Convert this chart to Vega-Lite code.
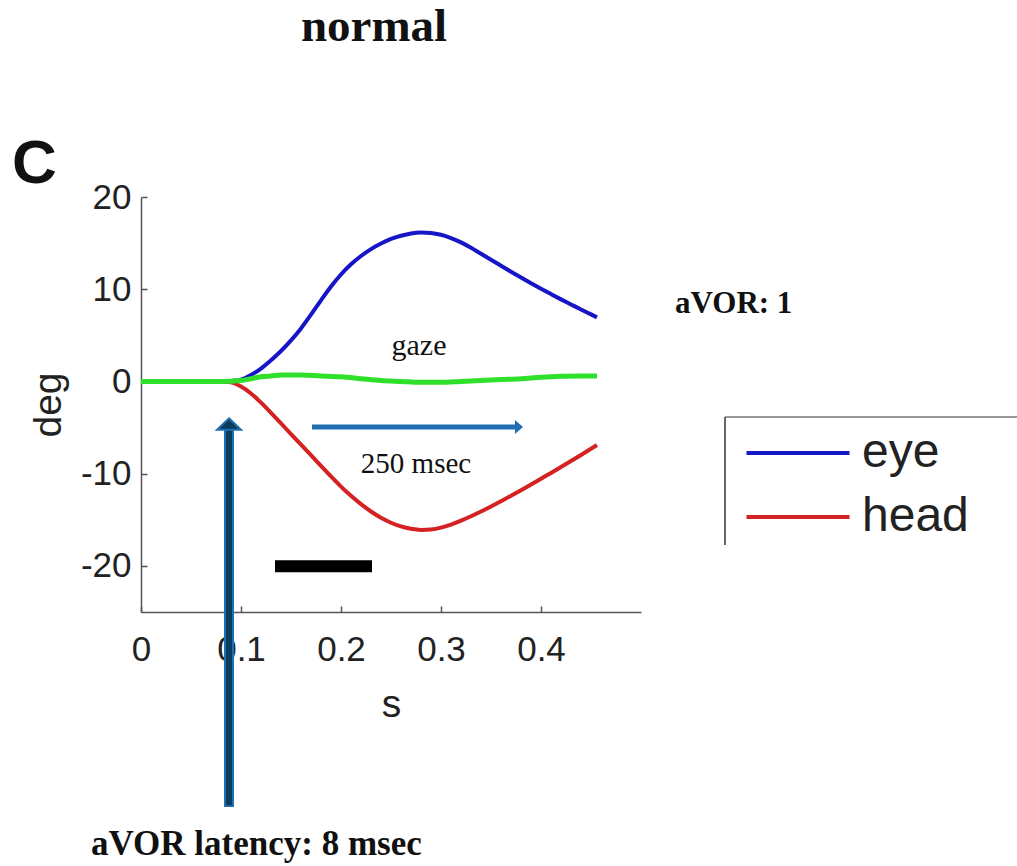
{
  "$schema": "https://vega.github.io/schema/vega-lite/v6.json",
  "width": 500,
  "height": 415,
  "autosize": {"type": "none"},
  "padding": {"left": 141, "top": 197, "right": 376, "bottom": 254},
  "background": "white",
  "config": {"view": {"stroke": null}, "font": "Liberation Sans"},
  "datasets": {
    "traces": [
      {"t": 0, "deg": 0, "series": "eye"}, {"t": 0.02, "deg": 0, "series": "eye"}, {"t": 0.04, "deg": 0, "series": "eye"},
      {"t": 0.06, "deg": 0, "series": "eye"}, {"t": 0.08, "deg": 0, "series": "eye"}, {"t": 0.09, "deg": 0.05, "series": "eye"},
      {"t": 0.1, "deg": 0.2, "series": "eye"}, {"t": 0.11, "deg": 0.7, "series": "eye"}, {"t": 0.12, "deg": 1.4, "series": "eye"},
      {"t": 0.13, "deg": 2.3, "series": "eye"}, {"t": 0.14, "deg": 3.3, "series": "eye"}, {"t": 0.15, "deg": 4.45, "series": "eye"},
      {"t": 0.16, "deg": 5.75, "series": "eye"}, {"t": 0.17, "deg": 7.25, "series": "eye"}, {"t": 0.18, "deg": 8.8, "series": "eye"},
      {"t": 0.19, "deg": 10.3, "series": "eye"}, {"t": 0.2, "deg": 11.6, "series": "eye"}, {"t": 0.21, "deg": 12.7, "series": "eye"},
      {"t": 0.22, "deg": 13.6, "series": "eye"}, {"t": 0.23, "deg": 14.35, "series": "eye"}, {"t": 0.24, "deg": 14.95, "series": "eye"},
      {"t": 0.25, "deg": 15.45, "series": "eye"}, {"t": 0.26, "deg": 15.8, "series": "eye"}, {"t": 0.27, "deg": 16.05, "series": "eye"},
      {"t": 0.28, "deg": 16.15, "series": "eye"}, {"t": 0.29, "deg": 16.1, "series": "eye"}, {"t": 0.3, "deg": 15.9, "series": "eye"},
      {"t": 0.31, "deg": 15.55, "series": "eye"}, {"t": 0.32, "deg": 15.08, "series": "eye"}, {"t": 0.33, "deg": 14.5, "series": "eye"},
      {"t": 0.34, "deg": 13.85, "series": "eye"}, {"t": 0.35, "deg": 13.2, "series": "eye"}, {"t": 0.36, "deg": 12.55, "series": "eye"},
      {"t": 0.37, "deg": 11.9, "series": "eye"}, {"t": 0.38, "deg": 11.27, "series": "eye"}, {"t": 0.39, "deg": 10.65, "series": "eye"},
      {"t": 0.4, "deg": 10.05, "series": "eye"}, {"t": 0.41, "deg": 9.47, "series": "eye"}, {"t": 0.42, "deg": 8.9, "series": "eye"},
      {"t": 0.43, "deg": 8.35, "series": "eye"}, {"t": 0.44, "deg": 7.8, "series": "eye"}, {"t": 0.45, "deg": 7.27, "series": "eye"},
      {"t": 0.456, "deg": 6.95, "series": "eye"},

      {"t": 0, "deg": 0, "series": "head"}, {"t": 0.02, "deg": 0, "series": "head"}, {"t": 0.04, "deg": 0, "series": "head"},
      {"t": 0.06, "deg": 0, "series": "head"}, {"t": 0.08, "deg": 0, "series": "head"}, {"t": 0.09, "deg": -0.1, "series": "head"},
      {"t": 0.1, "deg": -0.55, "series": "head"}, {"t": 0.11, "deg": -1.3, "series": "head"}, {"t": 0.12, "deg": -2.3, "series": "head"},
      {"t": 0.13, "deg": -3.4, "series": "head"}, {"t": 0.14, "deg": -4.55, "series": "head"}, {"t": 0.15, "deg": -5.7, "series": "head"},
      {"t": 0.16, "deg": -6.85, "series": "head"}, {"t": 0.17, "deg": -8.0, "series": "head"}, {"t": 0.18, "deg": -9.15, "series": "head"},
      {"t": 0.19, "deg": -10.3, "series": "head"}, {"t": 0.2, "deg": -11.4, "series": "head"}, {"t": 0.21, "deg": -12.4, "series": "head"},
      {"t": 0.22, "deg": -13.3, "series": "head"}, {"t": 0.23, "deg": -14.1, "series": "head"}, {"t": 0.24, "deg": -14.78, "series": "head"},
      {"t": 0.25, "deg": -15.32, "series": "head"}, {"t": 0.26, "deg": -15.72, "series": "head"}, {"t": 0.27, "deg": -15.98, "series": "head"},
      {"t": 0.28, "deg": -16.1, "series": "head"}, {"t": 0.29, "deg": -16.05, "series": "head"}, {"t": 0.3, "deg": -15.85, "series": "head"},
      {"t": 0.31, "deg": -15.52, "series": "head"}, {"t": 0.32, "deg": -15.1, "series": "head"}, {"t": 0.33, "deg": -14.62, "series": "head"},
      {"t": 0.34, "deg": -14.1, "series": "head"}, {"t": 0.35, "deg": -13.55, "series": "head"}, {"t": 0.36, "deg": -12.98, "series": "head"},
      {"t": 0.37, "deg": -12.4, "series": "head"}, {"t": 0.38, "deg": -11.8, "series": "head"}, {"t": 0.39, "deg": -11.18, "series": "head"},
      {"t": 0.4, "deg": -10.55, "series": "head"}, {"t": 0.41, "deg": -9.92, "series": "head"}, {"t": 0.42, "deg": -9.28, "series": "head"},
      {"t": 0.43, "deg": -8.63, "series": "head"}, {"t": 0.44, "deg": -7.97, "series": "head"}, {"t": 0.45, "deg": -7.3, "series": "head"},
      {"t": 0.456, "deg": -6.9, "series": "head"},

      {"t": 0, "deg": 0, "series": "gaze"}, {"t": 0.02, "deg": 0, "series": "gaze"}, {"t": 0.04, "deg": 0, "series": "gaze"},
      {"t": 0.06, "deg": 0, "series": "gaze"}, {"t": 0.08, "deg": 0, "series": "gaze"}, {"t": 0.1, "deg": 0.1, "series": "gaze"},
      {"t": 0.11, "deg": 0.3, "series": "gaze"}, {"t": 0.12, "deg": 0.5, "series": "gaze"}, {"t": 0.13, "deg": 0.6, "series": "gaze"},
      {"t": 0.14, "deg": 0.7, "series": "gaze"}, {"t": 0.16, "deg": 0.7, "series": "gaze"}, {"t": 0.18, "deg": 0.6, "series": "gaze"},
      {"t": 0.2, "deg": 0.5, "series": "gaze"}, {"t": 0.22, "deg": 0.3, "series": "gaze"}, {"t": 0.24, "deg": 0.1, "series": "gaze"},
      {"t": 0.26, "deg": 0, "series": "gaze"}, {"t": 0.28, "deg": -0.1, "series": "gaze"}, {"t": 0.3, "deg": -0.1, "series": "gaze"},
      {"t": 0.32, "deg": 0, "series": "gaze"}, {"t": 0.34, "deg": 0.1, "series": "gaze"}, {"t": 0.36, "deg": 0.2, "series": "gaze"},
      {"t": 0.38, "deg": 0.3, "series": "gaze"}, {"t": 0.4, "deg": 0.45, "series": "gaze"}, {"t": 0.42, "deg": 0.55, "series": "gaze"},
      {"t": 0.44, "deg": 0.6, "series": "gaze"}, {"t": 0.456, "deg": 0.6, "series": "gaze"}
    ]
  },
  "layer": [
    {
      "data": {"name": "traces"},
      "transform": [{"filter": "datum.series !== 'gaze'"}],
      "mark": {"type": "line", "strokeWidth": 4, "interpolate": "monotone"},
      "encoding": {
        "x": {
          "field": "t", "type": "quantitative",
          "scale": {"domain": [0, 0.5], "nice": false, "zero": false},
          "axis": {
            "title": "s", "values": [0, 0.1, 0.2, 0.3, 0.4], "labelExpr": "toString(datum.value)", "grid": false,
            "domainColor": "#555", "domainWidth": 1.5, "tickColor": "#555", "tickWidth": 1.5, "tickSize": -6,
            "labelFont": "Liberation Sans", "labelFontSize": 35, "labelColor": "#222", "labelPadding": 26,
            "labelFlush": false, "labelOverlap": false,
            "titleFont": "Liberation Sans", "titleFontSize": 39, "titleFontWeight": "normal", "titleColor": "#222", "titlePadding": 18
          }
        },
        "y": {
          "field": "deg", "type": "quantitative",
          "scale": {"domain": [-25, 20], "nice": false},
          "axis": {
            "title": "deg", "values": [-20, -10, 0, 10, 20], "labelExpr": "toString(datum.value)", "grid": false,
            "domainColor": "#555", "domainWidth": 1.5, "tickColor": "#555", "tickWidth": 1.5, "tickSize": -6,
            "labelFont": "Liberation Sans", "labelFontSize": 35, "labelColor": "#222", "labelPadding": 16,
            "labelFlush": false, "labelOverlap": false,
            "titleFont": "Liberation Sans", "titleFontSize": 39, "titleFontWeight": "normal", "titleColor": "#222", "titlePadding": 12
          }
        },
        "color": {
          "field": "series", "type": "nominal",
          "scale": {"domain": ["eye", "head"], "range": ["#1616c8", "#d42121"]},
          "legend": {
            "orient": "none", "legendX": 629, "legendY": 228, "title": null, "padding": 0,
            "symbolType": "M-2,0H2", "symbolSize": 2652, "symbolStrokeWidth": 4,
            "labelFont": "Liberation Sans", "labelFontSize": 48, "labelColor": "#222",
            "labelOffset": 36, "rowPadding": 12
          }
        }
      }
    },
    {
      "data": {"name": "traces"},
      "transform": [{"filter": "datum.series === 'gaze'"}],
      "mark": {"type": "line", "strokeWidth": 5, "interpolate": "monotone", "color": "#2fe02a"},
      "encoding": {
        "x": {"field": "t", "type": "quantitative"},
        "y": {"field": "deg", "type": "quantitative"}
      }
    },
    {
      "data": {"values": [{}]},
      "mark": {"type": "rule", "color": "#777", "strokeWidth": 1.5},
      "encoding": {"x": {"datum": 0.584}, "x2": {"datum": 0.95}, "y": {"datum": -3.86}}
    },
    {
      "data": {"values": [{}]},
      "mark": {"type": "rule", "color": "#666", "strokeWidth": 2},
      "encoding": {"x": {"datum": 0.584}, "y": {"datum": -3.86}, "y2": {"datum": -17.74}}
    },
    {
      "data": {"values": [{}]},
      "mark": {"type": "rule", "color": "#000", "strokeWidth": 12, "strokeCap": "butt"},
      "encoding": {"x": {"datum": 0.134}, "x2": {"datum": 0.231}, "y": {"datum": -20.05}}
    },
    {
      "data": {"values": [{}]},
      "mark": {"type": "rule", "color": "#1f6fb2", "strokeWidth": 5, "strokeCap": "butt"},
      "encoding": {"x": {"datum": 0.171}, "x2": {"datum": 0.376}, "y": {"datum": -4.94}}
    },
    {
      "data": {"values": [{}]},
      "mark": {"type": "point", "shape": "M1,0L-0.15,-1L-0.15,1Z", "size": 196, "filled": true, "opacity": 1, "color": "#1f6fb2"},
      "encoding": {"x": {"datum": 0.375}, "y": {"datum": -4.94}}
    },
    {
      "data": {"values": [{}]},
      "mark": {"type": "rule", "color": "#1f6fb2", "strokeWidth": 10, "strokeCap": "butt"},
      "encoding": {"x": {"datum": 0.088}, "y": {"datum": -46.15}, "y2": {"datum": -4.84}}
    },
    {
      "data": {"values": [{}]},
      "mark": {"type": "rule", "color": "#0b3c5d", "strokeWidth": 6, "strokeCap": "butt"},
      "encoding": {"x": {"datum": 0.088}, "y": {"datum": -45.95}, "y2": {"datum": -4.84}}
    },
    {
      "data": {"values": [{}]},
      "mark": {"type": "point", "shape": "M0,-0.48L1,0.48L-1,0.48Z", "size": 576, "filled": true, "opacity": 1, "fill": "#0b3c5d", "stroke": "#1f6fb2", "strokeWidth": 2},
      "encoding": {"x": {"datum": 0.088}, "y": {"datum": -4.62}}
    },
    {
      "data": {"values": [{}]},
      "mark": {"type": "text", "text": "normal", "font": "Liberation Serif", "fontWeight": "bold", "fontSize": 47, "align": "center", "baseline": "alphabetic", "color": "#111"},
      "encoding": {"x": {"datum": 0.233}, "y": {"datum": 36.9}}
    },
    {
      "data": {"values": [{}]},
      "mark": {"type": "text", "text": "C", "font": "Liberation Sans", "fontWeight": "bold", "fontSize": 62, "align": "left", "baseline": "alphabetic", "color": "#111"},
      "encoding": {"x": {"datum": -0.129}, "y": {"datum": 21.5}}
    },
    {
      "data": {"values": [{}]},
      "mark": {"type": "text", "text": "aVOR: 1", "font": "Liberation Serif", "fontWeight": "bold", "fontSize": 31, "align": "left", "baseline": "alphabetic", "color": "#111"},
      "encoding": {"x": {"datum": 0.534}, "y": {"datum": 7.4}}
    },
    {
      "data": {"values": [{}]},
      "mark": {"type": "text", "text": "gaze", "font": "Liberation Serif", "fontSize": 30, "align": "center", "baseline": "alphabetic", "color": "#111"},
      "encoding": {"x": {"datum": 0.278}, "y": {"datum": 2.87}}
    },
    {
      "data": {"values": [{}]},
      "mark": {"type": "text", "text": "250 msec", "font": "Liberation Serif", "fontSize": 29, "align": "center", "baseline": "alphabetic", "color": "#111"},
      "encoding": {"x": {"datum": 0.275}, "y": {"datum": -9.93}}
    },
    {
      "data": {"values": [{}]},
      "mark": {"type": "text", "text": "aVOR latency: 8 msec", "font": "Liberation Serif", "fontWeight": "bold", "fontSize": 35, "align": "left", "baseline": "alphabetic", "color": "#111"},
      "encoding": {"x": {"datum": -0.05}, "y": {"datum": -51.3}}
    }
  ]
}
